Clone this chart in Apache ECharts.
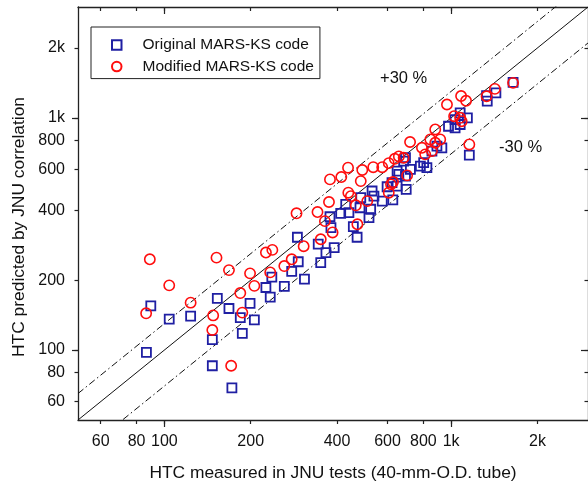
<!DOCTYPE html>
<html>
<head>
<meta charset="utf-8">
<script src="https://cdn.jsdelivr.net/npm/echarts@6/dist/echarts.min.js"></script>
<style>html,body{margin:0;padding:0;background:#fff}#c{width:588px;height:487px}</style>
</head>
<body>
<div id="c"></div>
<script>
// ---- data (HTC values) ----
const origMeasured = [86.6,89.7,104,123.5,147,147,153,168,172,184,187,199,206,226,234,237,262,278,293,291,308,344,351,366,391,378,381,412,429,440,456,470,481,484,517,524,530,538,575,598,622,626,648,648,657,683,693,693,697,721,781,802,823,857,892,928,979,1032,1032,1075,1075,1139,1157,1329,1336,1432,1644];
const origPredicted = [97.7,155,136,140,111,85.6,167,151,68.7,138,118,159,135,186,169,206,188,218,240,306,202,286,238,263,276,375,337,388,424,391,340,306,410,453,372,404,484,460,438,505,526,443,590,508,571,651,673,561,492,600,619,641,610,719,755,743,920,906,983,1051,936,1000,691,1247,1179,1281,1422];
const modMeasured = [86.4,89,104,123.5,147,148,152,168,171,184,187,199,206,226,238,234,262,278,289,306,342,363,351,386,375,378,414,437,438,447,465,471,484,490,510,535,575,606,636,657,683,606,617,627,702,719,791,812,857,846,880,916,880,967,1024,1075,1088,1083,1127,1157,1329,1421,1644];
const modPredicted = [144,246,190,160,122,141,250,221,85.6,176,145,214,189,263,270,216,230,246,388,280,393,359,300,321,434,543,556,610,476,460,420,348,534,596,438,613,613,638,666,682,673,476,517,529,565,787,743,696,719,807,781,807,891,1141,1016,1000,967,1241,1184,768,1238,1332,1414];
const seriesNames = ['Original MARS-KS code', 'Modified MARS-KS code'];
const tickValues = [60, 80, 100, 200, 400, 600, 800, 1000, 2000];
const tickLabels = ['60', '80', '100', '200', '400', '600', '800', '1k', '2k'];
const majorTickValues = [100, 1000];
const axisRange = [50, 3000];
const bandRatios = [1, 1.3, 0.7];
const bandTexts = ['+30 %', '-30 %'];
const xTitle = 'HTC measured in JNU tests (40-mm-O.D. tube)';
const yTitle = 'HTC predicted by JNU correlation';

const FONT = 'Liberation Sans';
const INK = '#111';
const BLUE = '#1f1fa3';
const RED = '#ff0d0d';

function fmt(v) {
  for (let i = 0; i < tickValues.length; i++) {
    if (Math.abs(v - tickValues[i]) / tickValues[i] < 1e-6) return tickLabels[i];
  }
  return '';
}
function zip(a, b) { return a.map((v, i) => [v, b[i]]); }

function axisBase(extra) {
  return Object.assign({
    type: 'log', logBase: 10, min: axisRange[0], max: axisRange[1],
    splitLine: { show: false }, minorTick: { show: false }, minorSplitLine: { show: false },
    axisLine: { show: false, lineStyle: { color: '#222', width: 1.3 } },
    axisLabel: { show: false },
    axisPointer: { show: false }
  }, extra);
}
function ticks(values, len, inside) {
  return { show: true, customValues: values, length: len, inside: inside, lineStyle: { color: '#222', width: 1.2 } };
}

const chart = echarts.init(document.getElementById('c'), null, { renderer: 'canvas' });

const xAxes = [
  axisBase({
    position: 'bottom',
    axisLine: { show: true, lineStyle: { color: '#222', width: 1.3 } },
    axisTick: ticks(tickValues, 4, false),
    axisLabel: { show: true, customValues: tickValues, formatter: fmt, fontFamily: FONT, fontSize: 16, color: INK, margin: 14 },
    name: xTitle, nameLocation: 'middle', nameGap: 45,
    nameTextStyle: { fontFamily: FONT, fontSize: 17.4, color: INK }
  }),
  axisBase({ position: 'bottom', axisTick: ticks(majorTickValues, 7, false) }),
  axisBase({ position: 'top', axisLine: { show: true, lineStyle: { color: '#222', width: 1.3 } }, axisTick: ticks(tickValues, 4, true) }),
  axisBase({ position: 'top', axisTick: ticks(majorTickValues, 7, true) })
];
const yAxes = [
  axisBase({
    position: 'left',
    axisLine: { show: true, lineStyle: { color: '#222', width: 1.3 } },
    axisTick: ticks(tickValues, 3.5, false),
    axisLabel: { show: true, customValues: tickValues, formatter: fmt, fontFamily: FONT, fontSize: 16, color: INK, margin: 13 },
    name: yTitle, nameLocation: 'middle', nameGap: 50, nameRotate: 90,
    nameTextStyle: { fontFamily: FONT, fontSize: 17.4, color: INK, padding: [0, 27, 0, 0] }
  }),
  axisBase({ position: 'left', axisTick: ticks(majorTickValues, 6, false) }),
  axisBase({ position: 'right', axisLine: { show: true, lineStyle: { color: '#222', width: 1.3 } }, axisTick: ticks(tickValues, 3.5, true) }),
  axisBase({ position: 'right', axisTick: ticks(majorTickValues, 7, true) })
];

const refLines = bandRatios.map((k, i) => ({
  type: 'line', silent: true, symbol: 'none', z: 1,
  data: axisRange.map(v => [v, v * k]),
  lineStyle: { color: '#111', width: 1, type: i === 0 ? 'solid' : [7, 3, 1.5, 3] }
}));

chart.setOption({
  animation: false,
  backgroundColor: '#fff',
  grid: { left: 78, right: -3, top: 7, bottom: 66, containLabel: false },
  xAxis: xAxes,
  yAxis: yAxes,
  legend: {
    orient: 'vertical', left: 91, top: 27,
    padding: [10, 6, 4, 20],
    itemWidth: 9.5, itemHeight: 9.5, itemGap: 5.6,
    borderColor: '#222', borderWidth: 1, backgroundColor: '#fff',
    textStyle: { fontFamily: FONT, fontSize: 15.5, color: INK, lineHeight: 16, padding: [0, 0, 0, 16] },
    data: [{ name: seriesNames[0], icon: 'rect' }, { name: seriesNames[1], icon: 'circle' }]
  },
  graphic: [
    { type: 'text', left: 380, top: 69.5, style: { text: bandTexts[0], fontFamily: FONT, fontSize: 16.5, fill: INK } },
    { type: 'text', left: 499, top: 138.5, style: { text: bandTexts[1], fontFamily: FONT, fontSize: 16.5, fill: INK } }
  ],
  series: refLines.concat([
    {
      name: seriesNames[0], type: 'scatter', symbol: 'rect', symbolSize: 9, z: 3,
      data: zip(origMeasured, origPredicted),
      itemStyle: { color: 'transparent', borderColor: BLUE, borderWidth: 1.8, opacity: 1 }
    },
    {
      name: seriesNames[1], type: 'scatter', symbol: 'circle', symbolSize: 10.3, z: 4,
      data: zip(modMeasured, modPredicted),
      itemStyle: { color: 'transparent', borderColor: RED, borderWidth: 1.6, opacity: 1 }
    }
  ])
});
</script>
</body>
</html>
